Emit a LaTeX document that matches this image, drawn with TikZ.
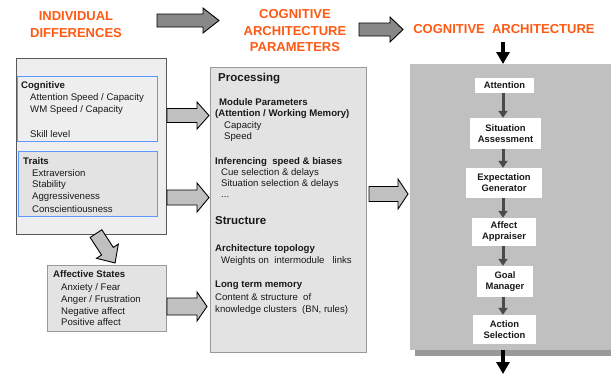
\documentclass[tikz,border=0pt]{standalone}
\usepackage{fontspec}
\setmainfont{Liberation Sans}
\usetikzlibrary{arrows.meta}
\definecolor{hdr}{RGB}{255,90,20}
\definecolor{bluebd}{RGB}{95,150,255}
\definecolor{boxA}{HTML}{EEEEEE}
\definecolor{boxB}{HTML}{E3E3E3}
\definecolor{archgray}{HTML}{C0C0C0}
\definecolor{shadowgray}{HTML}{999999}
\definecolor{darkarr}{HTML}{4A4A4A}
\definecolor{bigarr}{HTML}{888888}
\definecolor{lightarr}{HTML}{C0C0C0}
\newcommand\hblock[7]{%
  \draw[barrow, fill=#7] (#1,{#4-#5}) -- (#3,{#4-#5}) -- (#3,{#4-#6}) -- (#2,#4)
     -- (#3,{#4+#6}) -- (#3,{#4+#5}) -- (#1,{#4+#5}) -- cycle;}
\begin{document}
\begin{tikzpicture}[x=1pt,y=-1pt,
  hd/.style={font=\fontsize{13}{16}\selectfont\bfseries, text=hdr, anchor=base, inner sep=0},
  tx/.style={font=\fontsize{9.6}{11}\selectfont, anchor=base west, inner sep=0, text=black!90},
  tb/.style={tx, font=\fontsize{9.6}{11}\selectfont\bfseries},
  th/.style={tx, font=\fontsize{11.5}{13}\selectfont\bfseries},
  wbox/.style={fill=white, inner sep=0, font=\fontsize{9.4}{11}\selectfont\bfseries, align=center, text=black!90},
  barrow/.style={draw=black, line width=0.9pt, line join=miter},
  sarrow/.style={draw=darkarr, line width=3pt, -{Triangle[width=9pt,length=7pt]}},
  karrow/.style={draw=black, line width=3.5pt, -{Triangle[width=13pt,length=12pt]}}]
\useasboundingbox (0,0) rectangle (611,375);
\fill[white] (0,0) rectangle (611,375);

% headers
\node[hd] (h1a) at (76,20) {INDIVIDUAL};
\node[hd] (h1b) at (76,37) {DIFFERENCES};
\node[hd] (h2a) at (295,18.7) {COGNITIVE};
\node[hd] (h2b) at (295,35) {ARCHITECTURE};
\node[hd] (h2c) at (295,51) {PARAMETERS};
\node[hd] (h3) at (504,33) {COGNITIVE~ ARCHITECTURE};
\hblock{157}{219}{203}{20.5}{6.5}{12.5}{bigarr}
\hblock{359}{403}{390}{29.5}{6.5}{12.5}{bigarr}

% left box
\node[draw=black!65, fill=boxA, line width=0.8pt, anchor=north west, minimum width=150, minimum height=176, inner sep=0] (left) at (16,58) {};
\node[draw=bluebd, fill=boxA, line width=0.9pt, anchor=north west, minimum width=140, minimum height=65, inner sep=0] (cog) at (17,76) {};
\node[draw=bluebd, fill=boxB, line width=0.9pt, anchor=north west, minimum width=139, minimum height=65, inner sep=0] (traits) at (18,151) {};
\node[tb] (c0) at (21,88.5) {Cognitive};
\node[tx] (c1) at (30,100.5) {Attention Speed / Capacity};
\node[tx] (c2) at (30,112) {WM Speed / Capacity};
\node[tx] (c3) at (30,137) {Skill level};
\node[tb] (t0) at (23,164.5) {Traits};
\node[tx] (t1) at (32,176) {Extraversion};
\node[tx] (t2) at (32,187.5) {Stability};
\node[tx] (t3) at (32,199.5) {Aggressiveness};
\node[tx] (t4) at (32,212) {Conscientiousness};

% affective box
\node[draw=black!40, fill=boxB, line width=1.2pt, anchor=north west, minimum width=119, minimum height=66, inner sep=0] (affs) at (47,265) {};
\node[tb] (a0) at (53,277.5) {Affective States};
\node[tx] (a1) at (61,290) {Anxiety / Fear};
\node[tx] (a2) at (61,302) {Anger / Frustration};
\node[tx] (a3) at (61,314) {Negative affect};
\node[tx] (a4) at (61,325.5) {Positive affect};

% diagonal arrow
\begin{scope}[shift={(96,233.6)}, rotate=-57]
  \draw[barrow, fill=lightarr] (0,-7) -- (21,-7) -- (21,-13) -- (35,0) -- (21,13) -- (21,7) -- (0,7) -- cycle;
\end{scope}

% left arrows
\hblock{167}{209}{197}{115.5}{7}{13.5}{lightarr}
\hblock{167}{209}{197}{197.5}{7.5}{14.5}{lightarr}
\hblock{167}{207}{197}{306.5}{8.5}{14.5}{lightarr}

% middle box
\node[draw=black!40, fill=boxB, line width=1.2pt, anchor=north west, minimum width=156, minimum height=285, inner sep=0] (mid) at (210,67) {};
\node[th] (m0) at (218,81) {Processing};
\node[tb] (m1) at (219,105) {Module Parameters};
\node[tb] (m2) at (215,116.5) {(Attention / Working Memory)};
\node[tx] (m3) at (224,128.5) {Capacity};
\node[tx] (m4) at (224,139.5) {Speed};
\node[tb] (m5) at (215,164.5) {Inferencing~ speed \& biases};
\node[tx] (m6) at (221,175.5) {Cue selection \& delays};
\node[tx] (m7) at (221,186.5) {Situation selection \& delays};
\node[tx] (m8) at (221,197) {...};
\node[th] (m9) at (215,224) {Structure};
\node[tb] (m10) at (215,251.5) {Architecture topology};
\node[tx] (m11) at (221,263.5) {Weights on~ intermodule~~ links};
\node[tb] (m12) at (215,287) {Long term memory};
\node[tx] (m13) at (215,300.5) {Content \& structure~ of};
\node[tx] (m14) at (215,312.5) {knowledge clusters~ (BN, rules)};

\hblock{369}{408}{398}{194}{7.5}{15}{lightarr}

% cognitive architecture
\fill[shadowgray] (415,350) rectangle (611,356);
\node[fill=archgray, anchor=north west, minimum width=201, minimum height=286, inner sep=0] (arch) at (410,64) {};
\node[wbox, minimum width=59, minimum height=15] (att) at (504.5,85.5) {Attention};
\node[wbox, minimum width=71, minimum height=31] (sit) at (505.5,133.5) {Situation\\Assessment};
\node[wbox, minimum width=76, minimum height=30] (exp) at (504,183) {Expectation\\Generator};
\node[wbox, minimum width=64, minimum height=28] (aff) at (504,232) {Affect\\Appraiser};
\node[wbox, minimum width=56, minimum height=31] (goal) at (505,281.5) {Goal\\Manager};
\node[wbox, minimum width=63, minimum height=29] (act) at (504.5,329.5) {Action\\Selection};
\draw[sarrow] (att.south -| 503,0) -- (sit.north -| 503,0);
\draw[sarrow] (sit.south -| 503,0) -- (exp.north -| 503,0);
\draw[sarrow] (exp.south -| 503,0) -- (aff.north -| 503,0);
\draw[sarrow] (aff.south -| 503,0) -- (goal.north -| 503,0);
\draw[sarrow] (goal.south -| 503,0) -- (act.north -| 503,0);

\coordinate (ktop) at (503,42);
\coordinate (kin) at (503,64);
\coordinate (kout) at (503,350);
\coordinate (kend) at (503,374);
\draw[karrow] (ktop) -- (kin);
\draw[karrow] (kout) -- (kend);
\end{tikzpicture}
\end{document}
